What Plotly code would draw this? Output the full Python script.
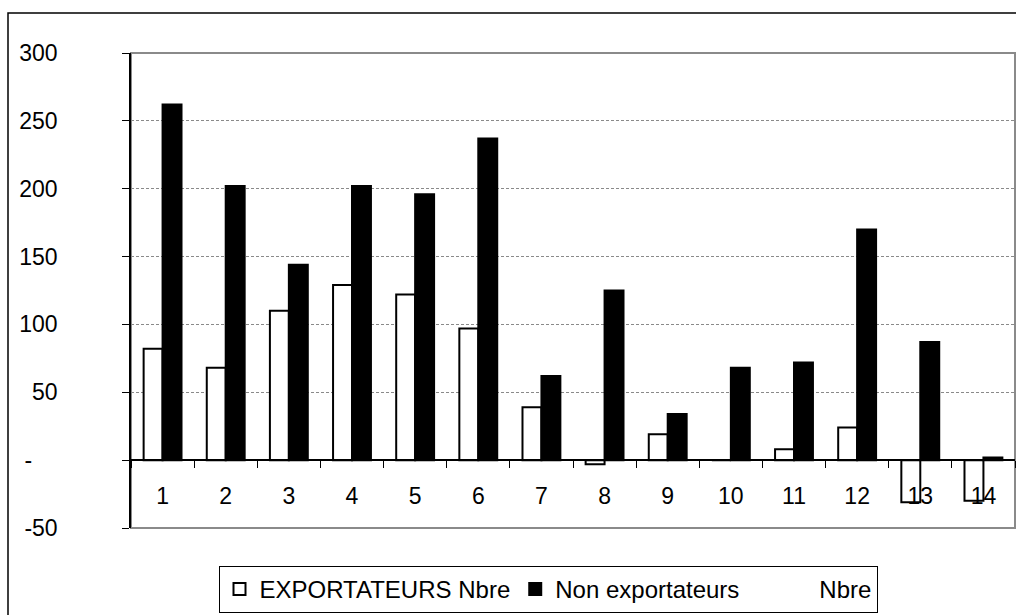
import plotly.graph_objects as go

# Category labels (groups 1..14)
categories = [str(i) for i in range(1, 15)]

# Number of exporting firms per group
exportateurs = [82, 68, 110, 129, 122, 97, 39, -3, 19, 0, 8, 24, -31, -30]

# Number of non-exporting firms per group
non_exportateurs = [262, 202, 144, 202, 196, 237, 62, 125, 34, 68, 72, 170, 87, 2]

# Y axis ticks (zero shown as a dash, accounting style)
y_tickvals = [-50, 0, 50, 100, 150, 200, 250, 300]
y_ticktext = ["-50", "-\u00a0\u00a0\u00a0\u00a0", "50", "100", "150", "200", "250", "300"]

y_min, y_max = -50, 300

FONT = "Liberation Sans, Arial, sans-serif"

fig = go.Figure()
fig.add_trace(go.Bar(
    x=categories, y=exportateurs, name="EXPORTATEURS Nbre",
    marker=dict(color="white", line=dict(color="black", width=2)),
))
fig.add_trace(go.Bar(
    x=categories, y=non_exportateurs,
    name="Non exportateurs" + "\u00a0" * 12 + "Nbre",
    marker=dict(color="black", line=dict(color="black", width=2)),
))

# Plot area occupies x 131..1015, y 53..528 in a 1016x615 page
L, R, T, B = 131, 1, 53, 87
W, H = 1016 - L - R, 615 - T - B

def px_x(p):
    return (p - L) / W

def px_y(p):
    return (615 - B - p) / H

fig.update_layout(
    width=1016, height=615,
    margin=dict(l=L, r=R, t=T, b=B, pad=0),
    paper_bgcolor="white", plot_bgcolor="white",
    barmode="group", bargap=0.4, bargroupgap=0,
    font=dict(family=FONT, size=23, color="black"),
    showlegend=True,
    legend=dict(
        orientation="h",
        x=px_x(548), xanchor="center",
        y=px_y(566), yanchor="top",
        bordercolor="black", borderwidth=1,
        font=dict(family=FONT, size=24, color="black"),
        bgcolor="white",
        traceorder="normal",
    ),
    xaxis=dict(
        type="category",
        anchor="free",
        position=(0 - y_min) / (y_max - y_min),
        showline=True, linecolor="black", linewidth=1.5,
        ticks="outside", ticklen=7, tickcolor="black", tickwidth=1,
        tickson="boundaries",
        showgrid=False,
        tickfont=dict(family=FONT, size=23, color="black"),
        ticklabelstandoff=16,
    ),
    yaxis=dict(
        range=[y_min, y_max],
        tickvals=y_tickvals, ticktext=y_ticktext,
        showline=True, linecolor="black", linewidth=1.5,
        ticks="outside", ticklen=7, tickcolor="black", tickwidth=1,
        showgrid=True, gridcolor="#8a8a8a", gridwidth=1, griddash="3px,2px",
        zeroline=False,
        tickfont=dict(family=FONT, size=23, color="black"),
        ticklabelstandoff=60,
    ),
    shapes=[
        # plot area border
        dict(type="rect", xref="paper", yref="paper", x0=0, x1=1, y0=0, y1=1,
             line=dict(color="#8a8a8a", width=2), layer="below"),
        # outer chart frame (top and left edges)
        dict(type="path", xref="paper", yref="paper",
             path=f"M {px_x(8)},{px_y(640)} L {px_x(8)},{px_y(13)} L {px_x(1030)},{px_y(13)}",
             line=dict(color="black", width=1.5)),
    ],
)

fig.write_html("out.html")
